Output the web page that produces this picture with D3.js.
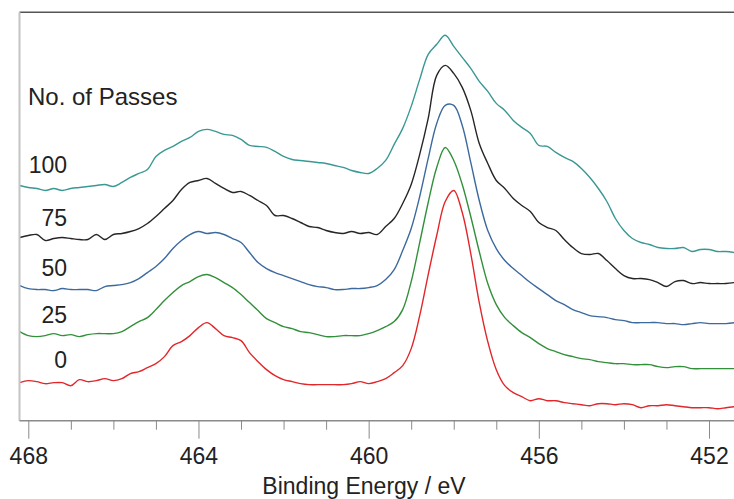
<!DOCTYPE html>
<html>
<head>
<meta charset="utf-8">
<script src="https://cdn.jsdelivr.net/npm/d3@7"></script>
<style>
  body { margin: 0; background: #fff; }
  text { font-family: "Liberation Sans", Arial, sans-serif; fill: #222; }
</style>
</head>
<body>
<div id="vizcontainer"></div>
<script>
// binding energy grid (eV), 0.2 eV steps
const energies = [
  468.2, 468.0, 467.8, 467.6, 467.4, 467.2, 467.0, 466.8, 466.6, 466.4,
  466.2, 466.0, 465.8, 465.6, 465.4, 465.2, 465.0, 464.8, 464.6, 464.4,
  464.2, 464.0, 463.8, 463.6, 463.4, 463.2, 463.0, 462.8, 462.6, 462.4,
  462.2, 462.0, 461.8, 461.6, 461.4, 461.2, 461.0, 460.8, 460.6, 460.4,
  460.2, 460.0, 459.8, 459.6, 459.4, 459.2, 459.0, 458.8, 458.6, 458.4,
  458.2, 458.0, 457.8, 457.6, 457.4, 457.2, 457.0, 456.8, 456.6, 456.4,
  456.2, 456.0, 455.8, 455.6, 455.4, 455.2, 455.0, 454.8, 454.6, 454.4,
  454.2, 454.0, 453.8, 453.6, 453.4, 453.2, 453.0, 452.8, 452.6, 452.4,
  452.2, 452.0, 451.8, 451.6, 451.4
];

// intensities (a.u., already offset for stacking)
const passes100 = [
  235, 233, 232, 230, 232, 230, 232, 233, 234, 235,
  236, 234, 238, 243, 247, 251, 264, 270, 274, 279,
  283, 289, 291, 289, 286, 285, 281, 275, 274, 273,
  269, 264, 261, 260, 259, 258, 257, 255, 253, 250,
  248, 247, 252, 260, 276, 292, 314, 341, 366, 376,
  385, 374, 363, 352, 339, 329, 317, 310, 300, 293,
  287, 275, 274, 268, 263, 259, 252, 243, 232, 219,
  202, 190, 182, 178, 176, 173, 172, 172, 173, 169,
  171, 171, 169, 169, 168
];
const passes75 = [
  183, 185, 186, 180, 182, 183, 182, 181, 181, 186,
  181, 186, 187, 189, 192, 197, 204, 212, 220, 231,
  238, 240, 242, 237, 232, 228, 229, 225, 220, 215,
  205, 205, 202, 198, 194, 193, 190, 188, 187, 189,
  187, 188, 186, 194, 202, 217, 236, 266, 302, 345,
  355, 347, 333, 310, 277, 257, 240, 232, 222, 215,
  209, 198, 193, 190, 181, 173, 167, 166, 167, 160,
  152, 145, 142, 142, 141, 138, 134, 139, 140, 137,
  138, 137, 137, 137, 138
];
const passes50 = [
  135, 132, 131, 131, 130, 132, 131, 131, 131, 130,
  134, 135, 136, 138, 142, 148, 154, 162, 172, 180,
  186, 189, 187, 188, 186, 182, 178, 168, 158, 152,
  148, 145, 142, 139, 136, 134, 133, 131, 131, 132,
  132, 133, 135, 141, 151, 170, 192, 224, 262, 297,
  315, 315, 295, 258, 220, 190, 172, 160, 152, 145,
  138, 132, 126, 120, 116, 111, 108, 105, 104, 103,
  101, 100, 98, 98, 98, 98, 97, 97, 96, 97,
  98, 97, 97, 97, 98
];
const passes25 = [
  89, 85, 84, 85, 87, 85, 86, 84, 86, 87,
  87, 87, 89, 94, 99, 103, 111, 120, 128, 135,
  139, 144, 146, 143, 138, 133, 126, 118, 110, 102,
  98, 94, 92, 89, 88, 86, 84, 84, 85, 85,
  85, 87, 90, 94, 99, 111, 139, 178, 218, 253,
  273, 260, 236, 204, 169, 137, 116, 103, 95, 88,
  83, 77, 72, 69, 66, 64, 62, 61, 59, 58,
  57, 57, 56, 56, 56, 54, 53, 54, 54, 52,
  52, 52, 52, 52, 52
];
const passes0 = [
  38, 40, 39, 37, 38, 38, 35, 41, 39, 40,
  42, 40, 42, 47, 49, 53, 57, 64, 75, 79,
  85, 93, 98, 92, 85, 83, 80, 68, 59, 51,
  45, 41, 39, 37, 36, 36, 36, 36, 36, 37,
  39, 37, 39, 42, 48, 55, 72, 105, 146, 185,
  219, 230, 208, 167, 118, 79, 51, 35, 28, 24,
  20, 22, 20, 20, 18, 17, 16, 15, 17, 17,
  16, 17, 16, 13, 15, 15, 16, 15, 14, 13,
  13, 13, 12, 13, 14
];

const seriesLabels = ['100', '75', '50', '25', '0'];
const seriesColors = ['#3a9894', '#262626', '#3d6a9e', '#33903a', '#e2262a'];
const labelYs = [173, 226, 276, 323, 368];
const majorTicks = [468, 464, 460, 456, 452];
const minorTicks = [467, 466, 465, 463, 462, 461, 459, 458, 457, 455, 454, 453];

const
  W = 734, H = 499,
  plotLeft = 19.5, plotRight = 734, plotTop = 12.3, plotBottom = 420.7;

const svg = d3.select('#vizcontainer')
  .append('svg')
  .attr('width', W)
  .attr('height', H);

const x = d3.scaleLinear()
  .domain([468, 452])
  .range([28.3, 709]);

const y = d3.scaleLinear()
  .domain([0, 408])
  .range([plotBottom, plotTop]);

svg.append('clipPath')
  .attr('id', 'plotclip')
  .append('rect')
  .attr('x', plotLeft).attr('y', plotTop)
  .attr('width', plotRight - plotLeft).attr('height', plotBottom - plotTop);

const allSeries = [passes100, passes75, passes50, passes25, passes0];

const line = d3.line()
  .x(d => x(d[0]))
  .y(d => y(d[1]))
  .curve(d3.curveCatmullRom.alpha(0.5));

svg.append('g')
  .attr('clip-path', 'url(#plotclip)')
  .selectAll('path')
  .data(allSeries)
  .join('path')
  .attr('fill', 'none')
  .attr('stroke', (d, i) => seriesColors[i])
  .attr('stroke-width', 1.4)
  .attr('stroke-linejoin', 'round')
  .attr('d', d => line(d.map((v, i) => [energies[i], v])));

// frame
svg.append('line')
  .attr('x1', plotLeft).attr('x2', plotRight)
  .attr('y1', plotTop).attr('y2', plotTop)
  .attr('stroke', '#555').attr('stroke-width', 1.5);
svg.append('line')
  .attr('x1', plotLeft).attr('x2', plotLeft)
  .attr('y1', plotTop).attr('y2', plotBottom)
  .attr('stroke', '#c4c4c4').attr('stroke-width', 2);

// bottom axis: major + minor ticks
const xAxis = svg.append('g')
  .attr('transform', `translate(0,${plotBottom})`)
  .call(d3.axisBottom(x)
    .tickValues(majorTicks)
    .tickSize(18)
    .tickPadding(9)
    .tickFormat(d3.format('d')));
xAxis.select('.domain')
  .attr('d', `M${plotLeft},0H${plotRight}`)
  .attr('stroke', '#8a8a8a').attr('stroke-width', 1.5);
xAxis.selectAll('.tick line').attr('stroke', '#8a8a8a');
xAxis.selectAll('.tick text')
  .attr('fill', '#222')
  .style('font-size', '23px')
  .style('font-family', '"Liberation Sans", Arial, sans-serif');

const minorAxis = svg.append('g')
  .attr('transform', `translate(0,${plotBottom})`)
  .call(d3.axisBottom(x)
    .tickValues(minorTicks)
    .tickSize(9)
    .tickFormat(''));
minorAxis.select('.domain').remove();
minorAxis.selectAll('.tick line').attr('stroke', '#8a8a8a');

svg.append('text')
  .attr('x', 364)
  .attr('y', 494)
  .attr('text-anchor', 'middle')
  .style('font-size', '23px')
  .text('Binding Energy / eV');

// legend-ish labels
svg.append('text')
  .attr('x', 28)
  .attr('y', 105)
  .style('font-size', '24px')
  .text('No. of Passes');

svg.append('g')
  .selectAll('text')
  .data(seriesLabels)
  .join('text')
  .attr('x', 67)
  .attr('y', (d, i) => labelYs[i])
  .attr('text-anchor', 'end')
  .style('font-size', '23px')
  .text(d => d);
</script>
</body>
</html>
